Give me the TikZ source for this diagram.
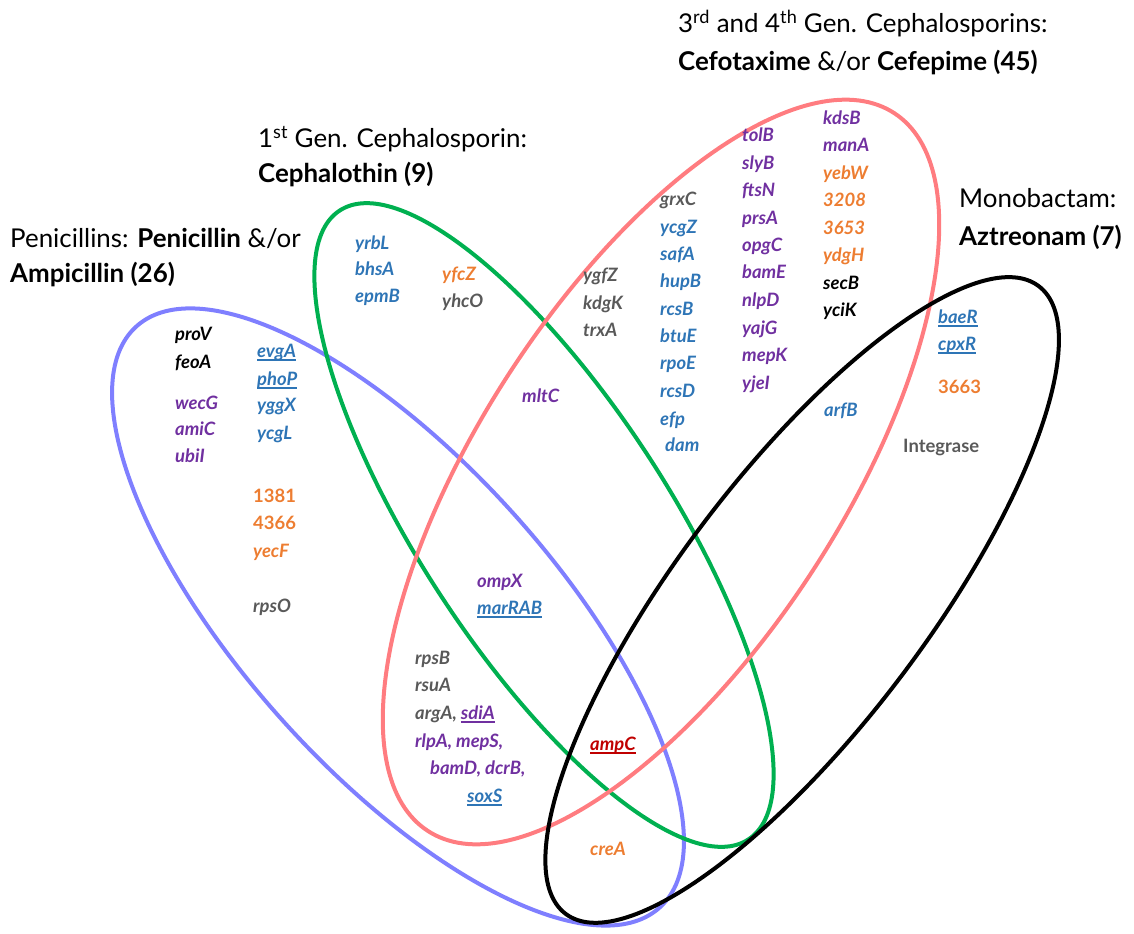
\documentclass[tikz,border=0pt]{standalone}
\usepackage{fontspec}
\setmainfont{Lato}
\definecolor{gblue}{HTML}{2E75B6}
\definecolor{gpurple}{HTML}{7030A0}
\definecolor{gorange}{HTML}{ED7D31}
\definecolor{ggray}{HTML}{595959}
\definecolor{gred}{HTML}{C00000}
\definecolor{setblue}{HTML}{7F7FFF}
\definecolor{setgreen}{HTML}{00B050}
\definecolor{setred}{HTML}{FF7C80}
\newsavebox\ulbox
\newcommand\genul[1]{\sbox\ulbox{#1}\rlap{\rule[-3.2bp]{\wd\ulbox}{1.3bp}}\usebox\ulbox}
\newcommand\genefont{\fontsize{18.5}{22}\selectfont\bfseries\itshape}
\newcommand\numfont{\fontsize{18.5}{22}\selectfont\bfseries}
\newcommand\headfont{\fontsize{26}{30}\selectfont}
\begin{document}
\begin{tikzpicture}[x=1bp,y=-1bp,
  every node/.style={inner sep=0pt,anchor=mid west},
  gene/.style={font=\genefont},
  num/.style={font=\numfont},
  head/.style={font=\headfont},
  set/.style={line width=4bp}]
\useasboundingbox (0,0) rectangle (1134,934);
% the four sets
\coordinate (cPen) at (398,617);
\coordinate (cCep) at (544,525);
\coordinate (cCef) at (661,472);
\coordinate (cAzt) at (802,600);
\draw[set,setblue,rotate around={-48:(cPen)}] (cPen) ellipse [x radius=391,y radius=155];
\draw[set,setgreen,rotate around={-57:(cCep)}] (cCep) ellipse [x radius=375,y radius=125];
\draw[set,setred,rotate around={57:(cCef)}] (cCef) ellipse [x radius=428,y radius=181];
\draw[set,black,rotate around={53:(cAzt)}] (cAzt) ellipse [x radius=393,y radius=125];
% set titles
\node[head] (penT) at (10,245) {Penicillins: \textbf{Penicillin} \&/or};
\node[head] (penD) at (10,280) {\textbf{Ampicillin (26)}};
\node[head] (cepT) at (258,145) {1\textsuperscript{st} Gen. Cephalosporin:};
\node[head] (cepD) at (258,180) {\textbf{Cephalothin (9)}};
\node[head] (cefT) at (678,30) {3\textsuperscript{rd} and 4\textsuperscript{th} Gen. Cephalosporins:};
\node[head] (cefD) at (678,68) {\textbf{Cefotaxime} \&/or \textbf{Cefepime (45)}};
\node[head] (monT) at (959,205) {Monobactam:};
\node[head] (monD) at (959,243) {\textbf{Aztreonam (7)}};
% penicillins only
\node[gene] (proV) at (175,338) {proV};
\node[gene] (feoA) at (175,366) {feoA};
\node[gene,gpurple] (wecG) at (175,407) {wecG};
\node[gene,gpurple] (amiC) at (175,433) {amiC};
\node[gene,gpurple] (ubiI) at (175,460) {ubiI};
\node[gene,gblue] (evgA) at (257,355) {\genul{evgA}};
\node[gene,gblue] (phoP) at (257,383) {\genul{phoP}};
\node[gene,gblue] (yggX) at (257,409) {yggX};
\node[gene,gblue] (ycgL) at (257,437) {ycgL};
\node[num,gorange] (n1381) at (253,500) {1381};
\node[num,gorange] (n4366) at (253,527) {4366};
\node[gene,gorange] (yecF) at (253,555) {yecF};
\node[gene,ggray] (rpsO) at (253,610) {rpsO};
% cephalothin only
\node[gene,gblue] (yrbL) at (355,247) {yrbL};
\node[gene,gblue] (bhsA) at (355,273) {bhsA};
\node[gene,gblue] (epmB) at (355,300) {epmB};
\node[gene,gorange] (yfcZ) at (442,278) {yfcZ};
\node[gene,ggray] (yhcO) at (442,305) {yhcO};
% cefotaxime / cefepime only
\node[gene,ggray] (ygfZ) at (583,279) {ygfZ};
\node[gene,ggray] (kdgK) at (583,307) {kdgK};
\node[gene,ggray] (trxA) at (583,334) {trxA};
\node[gene,ggray] (grxC) at (660,203) {grxC};
\node[gene,gblue] (ycgZ) at (660,231) {ycgZ};
\node[gene,gblue] (safA) at (660,258) {safA};
\node[gene,gblue] (hupB) at (660,285) {hupB};
\node[gene,gblue] (rcsB) at (660,313) {rcsB};
\node[gene,gblue] (btuE) at (660,340) {btuE};
\node[gene,gblue] (rpoE) at (660,367) {rpoE};
\node[gene,gblue] (rcsD) at (660,395) {rcsD};
\node[gene,gblue] (efp) at (660,423) {efp};
\node[gene,gblue] (dam) at (665,449) {dam};
\node[gene,gpurple] (tolB) at (742,139) {tolB};
\node[gene,gpurple] (slyB) at (742,167) {slyB};
\node[gene,gpurple] (ftsN) at (742,194) {ftsN};
\node[gene,gpurple] (prsA) at (742,222) {prsA};
\node[gene,gpurple] (opgC) at (742,249) {opgC};
\node[gene,gpurple] (bamE) at (742,276) {bamE};
\node[gene,gpurple] (nlpD) at (742,304) {nlpD};
\node[gene,gpurple] (yajG) at (742,332) {yajG};
\node[gene,gpurple] (mepK) at (742,359) {mepK};
\node[gene,gpurple] (yjeI) at (742,387) {yjeI};
\node[gene,gpurple] (kdsB) at (823,122) {kdsB};
\node[gene,gpurple] (manA) at (823,149) {manA};
\node[gene,gorange] (yebW) at (823,177) {yebW};
\node[gene,gorange] (n3208) at (823,204) {3208};
\node[gene,gorange] (n3653) at (823,232) {3653};
\node[gene,gorange] (ydgH) at (823,259) {ydgH};
\node[gene] (secB) at (823,287) {secB};
\node[gene] (yciK) at (823,314) {yciK};
% aztreonam only
\node[gene,gblue] (baeR) at (938,321) {\genul{baeR}};
\node[gene,gblue] (cpxR) at (938,348) {\genul{cpxR}};
\node[num,gorange] (n3663) at (938,391) {3663};
\node[num,ggray] (intg) at (903,450) {Integrase};
% overlaps
\node[gene,gpurple] (mltC) at (522,400) {mltC};
\node[gene,gblue] (arfB) at (824,414) {arfB};
\node[gene,gpurple] (ompX) at (477,585) {ompX};
\node[gene,gblue] (marRAB) at (477,612) {\genul{marRAB}};
\node[gene,ggray] (rpsB) at (415,662) {rpsB};
\node[gene,ggray] (rsuA) at (415,689) {rsuA};
\node[gene,ggray] (argA) at (415,717) {argA, \textcolor{gpurple}{\genul{sdiA}}};
\node[gene,gpurple] (rlpA) at (415,745) {rlpA, mepS,};
\node[gene,gpurple] (bamD) at (430,772) {bamD, dcrB,};
\node[gene,gblue] (soxS) at (467,800) {\genul{soxS}};
\node[gene,gred] (ampC) at (590,748) {\genul{ampC}};
\node[gene,gorange] (creA) at (590,853) {creA};
\end{tikzpicture}
\end{document}
